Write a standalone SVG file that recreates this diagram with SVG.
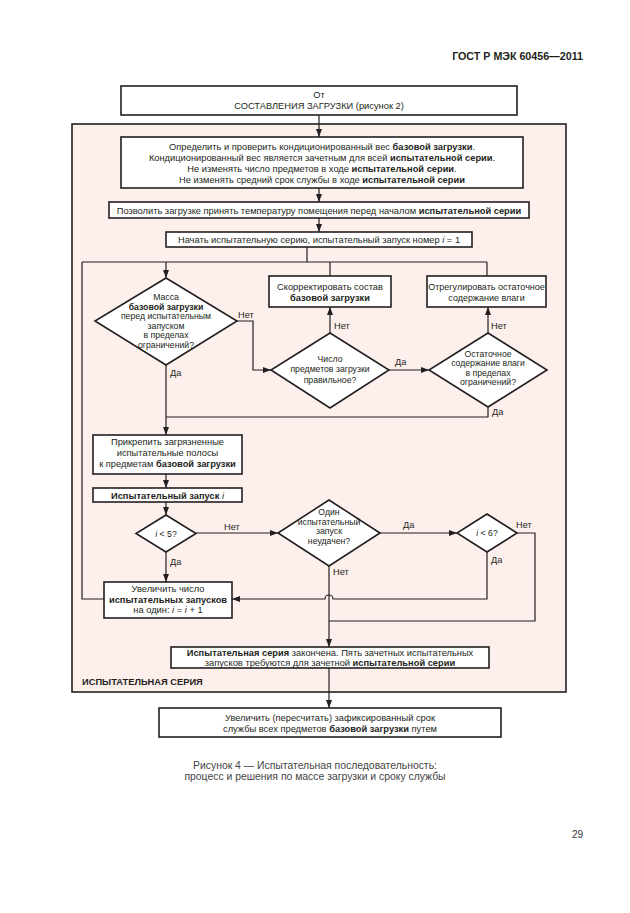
<svg xmlns="http://www.w3.org/2000/svg" width="630" height="913" viewBox="0 0 630 913">
<defs>
<marker id="ah" viewBox="0 0 8 6" refX="8" refY="3" markerWidth="8" markerHeight="6" markerUnits="userSpaceOnUse" orient="auto">
<path d="M0,0 L8,3 L0,6 Z" fill="#231f20"/>
</marker>
<style>
text{font-family:"Liberation Sans",Arial,sans-serif;font-size:9.3px;fill:#231f20}
.c{text-anchor:middle}
.b{font-weight:bold}
.i{font-style:italic}
.box{fill:#fff;stroke:#231f20;stroke-width:1.6}
.ln{fill:none;stroke:#231f20;stroke-width:1.2}
.ar{fill:none;stroke:#231f20;stroke-width:1.2;marker-end:url(#ah)}
.lb{font-size:9.2px}
.dt{font-size:8.7px}
</style>
</defs>
<rect width="630" height="913" fill="#fff"/>
<text x="583" y="60" class="b" style="font-size:10.7px;text-anchor:end">ГОСТ Р МЭК 60456—2011</text>

<g id="frame">
<rect x="72" y="124" width="494" height="568" fill="#fcefec" stroke="#231f20" stroke-width="1.6"/>
<text x="82" y="685" class="b" style="font-size:9.3px">ИСПЫТАТЕЛЬНАЯ СЕРИЯ</text>
</g>

<g id="connectors">
<path class="ar" d="M319,115 V137"/>
<path class="ar" d="M319,188 V202"/>
<path class="ar" d="M319,218 V232"/>
<path class="ln" d="M307,247 V262"/>
<path class="ln" d="M82,262 H487"/>
<path class="ar" d="M166,262 V278"/>
<path class="ln" d="M330,276 V262"/>
<path class="ln" d="M487,276 V262"/>
<path class="ar" d="M330,333 V307"/>
<path class="ar" d="M488,333 V307"/>
<path class="ar" d="M237,321 H253 V370 H271"/>
<path class="ar" d="M389,370 H429"/>
<path class="ln" d="M488,407 V417 H166"/>
<path class="ar" d="M166,365 V435"/>
<path class="ar" d="M166,474 V488"/>
<path class="ar" d="M166,502 V515"/>
<path class="ar" d="M196,533 H278"/>
<path class="ar" d="M166,552 V582"/>
<path class="ar" d="M380,533 H457"/>
<path class="ln" d="M517,533 H535 V621 H329"/>
<path class="ar" d="M487,552 V599 H333 A4,4 0 0 0 325,599 H232"/>
<path class="ar" d="M329,566 V647"/>
<path class="ln" d="M104,599 H82 V262"/>
<path class="ar" d="M329,668 V708"/>
<text x="238" y="318" class="lb">Нет</text>
<text x="334" y="329" class="lb">Нет</text>
<text x="395" y="365" class="lb">Да</text>
<text x="491" y="329" class="lb">Нет</text>
<text x="492" y="415" class="lb">Да</text>
<text x="170" y="376" class="lb">Да</text>
<text x="224" y="530" class="lb">Нет</text>
<text x="170" y="565" class="lb">Да</text>
<text x="403" y="528" class="lb">Да</text>
<text x="516" y="528" class="lb">Нет</text>
<text x="491" y="563" class="lb">Да</text>
<text x="333" y="575" class="lb">Нет</text>
</g>

<g id="start">
<rect class="box" x="121" y="86" width="396" height="29"/>
<text x="319" y="98" class="c">От</text>
<text x="319" y="109" class="c">СОСТАВЛЕНИЯ ЗАГРУЗКИ (рисунок 2)</text>
</g>

<g id="weigh">
<rect class="box" x="121" y="137" width="402" height="51"/>
<text x="322" y="149.5" class="c">Определить и проверить кондиционированный вес <tspan class="b">базовой загрузки</tspan>.</text>
<text x="322" y="160.5" class="c">Кондиционированный вес является зачетным для всей <tspan class="b">испытательной серии</tspan>.</text>
<text x="322" y="171.5" class="c">Не изменять число предметов в ходе <tspan class="b">испытательной серии</tspan>.</text>
<text x="322" y="182.5" class="c">Не изменять средний срок службы в ходе <tspan class="b">испытательной серии</tspan></text>
</g>

<g id="temp">
<rect class="box" x="109" y="202" width="420" height="16"/>
<text x="319" y="213.5" class="c">Позволить загрузке принять температуру помещения перед началом <tspan class="b">испытательной серии</tspan></text>
</g>

<g id="begin">
<rect class="box" x="166" y="232" width="306" height="15"/>
<text x="319" y="243" class="c">Начать испытательную серию, испытательный запуск номер <tspan class="i">i</tspan> = 1</text>
</g>

<g id="d-mass">
<polygon class="box" points="166,278 237,321 166,365 95,321"/>
<text x="166" y="300" class="c dt">Масса</text>
<text x="166" y="309.6" class="c dt b">базовой загрузки</text>
<text x="166" y="319.2" class="c dt">перед испытательным</text>
<text x="166" y="328.8" class="c dt">запуском</text>
<text x="166" y="338.4" class="c dt">в пределах</text>
<text x="166" y="348" class="c dt">ограничений?</text>
</g>

<g id="fix-load">
<rect class="box" x="269" y="276" width="122" height="31"/>
<text x="330" y="290" class="c">Скорректировать состав</text>
<text x="330" y="301" class="c b">базовой загрузки</text>
</g>

<g id="fix-moist">
<rect class="box" x="427" y="276" width="119" height="31"/>
<text x="486.5" y="290" class="c" style="font-size:9px">Отрегулировать остаточное</text>
<text x="486.5" y="301" class="c" style="font-size:9px">содержание влаги</text>
</g>

<g id="d-count">
<polygon class="box" points="330,333 389,370 330,408 271,370"/>
<text x="330" y="362" class="c dt">Число</text>
<text x="330" y="372.3" class="c dt">предметов загрузки</text>
<text x="330" y="382.6" class="c dt">правильное?</text>
</g>

<g id="d-moist">
<polygon class="box" points="488,333 547,370 488,407 429,370"/>
<text x="488" y="356.5" class="c dt">Остаточное</text>
<text x="488" y="366.1" class="c dt">содержание влаги</text>
<text x="488" y="375.7" class="c dt">в пределах</text>
<text x="488" y="385.3" class="c dt">ограничений?</text>
</g>

<g id="attach">
<rect class="box" x="93" y="435" width="149" height="39"/>
<text x="167.5" y="445" class="c">Прикрепить загрязненные</text>
<text x="167.5" y="456" class="c">испытательные полосы</text>
<text x="167.5" y="467" class="c">к предметам <tspan class="b">базовой загрузки</tspan></text>
</g>

<g id="run">
<rect class="box" x="93" y="488" width="149" height="14"/>
<text x="167.5" y="498.5" class="c b">Испытательный запуск <tspan class="i" font-weight="normal">i</tspan></text>
</g>

<g id="d-lt5">
<polygon class="box" points="166,515 196,533.5 166,552 136,533.5"/>
<text x="166" y="537" class="c dt"><tspan class="i">i</tspan> &lt; 5?</text>
</g>

<g id="d-fail">
<polygon class="box" points="329,500 380,533 329,566 278,533"/>
<text x="329" y="515" class="c dt">Один</text>
<text x="329" y="524.6" class="c dt">испытательный</text>
<text x="329" y="534.2" class="c dt">запуск</text>
<text x="329" y="543.8" class="c dt">неудачен?</text>
</g>

<g id="d-lt6">
<polygon class="box" points="487,514 517,533 487,552 457,533"/>
<text x="487" y="536" class="c dt"><tspan class="i">i</tspan> &lt; 6?</text>
</g>

<g id="increment">
<rect class="box" x="104" y="582" width="128" height="36"/>
<text x="168" y="592" class="c">Увеличить число</text>
<text x="168" y="602.5" class="c b">испытательных запусков</text>
<text x="168" y="613" class="c">на один: <tspan class="i">i</tspan> = <tspan class="i">i</tspan> + 1</text>
</g>

<g id="done">
<rect class="box" x="171" y="647" width="318" height="21"/>
<text x="330" y="656" class="c"><tspan class="b">Испытательная серия</tspan> закончена. Пять зачетных испытательных</text>
<text x="330" y="666" class="c">запусков требуются для зачетной <tspan class="b">испытательной серии</tspan></text>
</g>

<g id="final">
<rect class="box" x="159" y="708" width="342" height="29"/>
<text x="330" y="721" class="c">Увеличить (пересчитать) зафиксированный срок</text>
<text x="330" y="731.5" class="c">службы всех предметов <tspan class="b">базовой загрузки</tspan> путем</text>
</g>

<text x="315" y="769" class="c" style="font-size:10.4px;fill:#444">Рисунок 4 — Испытательная последовательность:</text>
<text x="315" y="780" class="c" style="font-size:10.4px;fill:#444">процесс и решения по массе загрузки и сроку службы</text>
<text x="583" y="838" style="font-size:10px;text-anchor:end;fill:#333">29</text>
</svg>
